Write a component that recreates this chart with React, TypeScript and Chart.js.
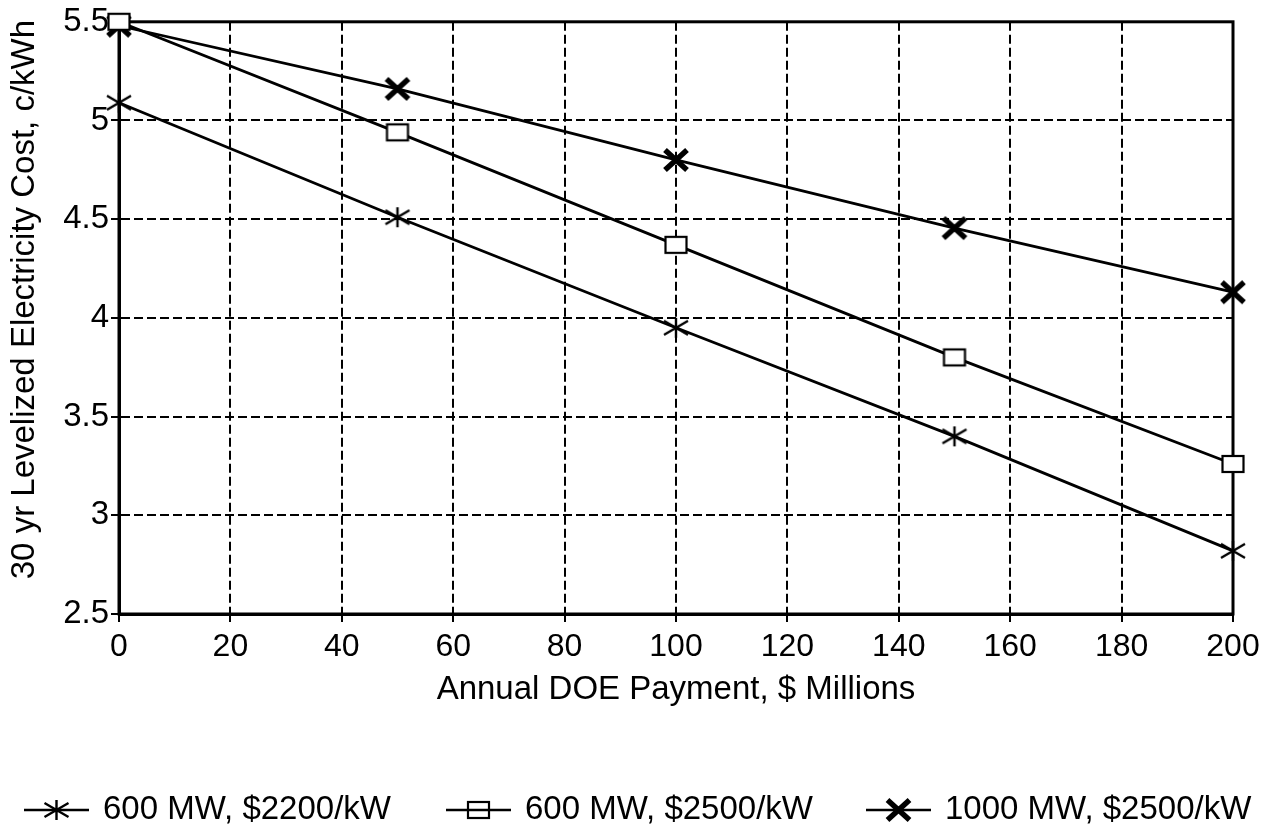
import React, { useEffect, useRef } from "react";
import { Chart, registerables } from "chart.js";

Chart.register(...registerables);

// Annual DOE payment ($ millions) and levelized cost (c/kWh) for each plant case
const payments = [0, 50, 100, 150, 200];
const cost600At2200 = [5.09, 4.51, 3.95, 3.4, 2.82];
const cost600At2500 = [5.5, 4.94, 4.37, 3.8, 3.26];
const cost1000At2500 = [5.48, 5.16, 4.8, 4.455, 4.13];
const seriesLabels = ["600 MW, $2200/kW", "600 MW, $2500/kW", "1000 MW, $2500/kW"];
const xTitle = "Annual DOE Payment, $ Millions";
const yTitle = "30 yr Levelized Electricity Cost, c/kWh";

const FONT = '"Liberation Sans", Arial, Helvetica, sans-serif';
const W = 1272;
const H = 834;

// Legend layout: left edge of each entry and the row's vertical centre
const LEGEND_X = [23, 445, 865];
const LEGEND_Y = 810;
const LEGEND_SYMBOL_W = 67;

type MarkerKind = "asterisk" | "square" | "boldx";

function drawMarker(ctx: CanvasRenderingContext2D, kind: MarkerKind, cx: number, cy: number, fillSquare: boolean) {
  ctx.strokeStyle = "#000";
  ctx.lineCap = "butt";
  if (kind === "asterisk") {
    ctx.lineWidth = 2.4;
    ctx.beginPath();
    ctx.moveTo(cx, cy - 10);
    ctx.lineTo(cx, cy + 10);
    ctx.moveTo(cx - 12, cy - 7);
    ctx.lineTo(cx + 12, cy + 7);
    ctx.moveTo(cx - 12, cy + 7);
    ctx.lineTo(cx + 12, cy - 7);
    ctx.stroke();
  } else if (kind === "square") {
    ctx.lineWidth = 2.2;
    if (fillSquare) {
      ctx.fillStyle = "#fff";
      ctx.fillRect(cx - 10.5, cy - 8, 21, 16);
    }
    ctx.strokeRect(cx - 10.5, cy - 8, 21, 16);
  } else {
    ctx.lineWidth = 5.5;
    ctx.beginPath();
    ctx.moveTo(cx - 11, cy - 10);
    ctx.lineTo(cx + 11, cy + 10);
    ctx.moveTo(cx - 11, cy + 10);
    ctx.lineTo(cx + 11, cy - 10);
    ctx.stroke();
  }
}

function makeMarker(kind: MarkerKind): HTMLCanvasElement {
  const c = document.createElement("canvas");
  c.width = 32;
  c.height = 32;
  const ctx = c.getContext("2d")!;
  drawMarker(ctx, kind, 16, 16, true);
  return c;
}

function makeLegendSymbol(kind: MarkerKind): HTMLCanvasElement {
  const c = document.createElement("canvas");
  c.width = LEGEND_SYMBOL_W;
  c.height = 28;
  const ctx = c.getContext("2d")!;
  ctx.strokeStyle = "#000";
  ctx.lineWidth = 2.5;
  ctx.beginPath();
  ctx.moveTo(1, 14);
  ctx.lineTo(LEGEND_SYMBOL_W - 1, 14);
  ctx.stroke();
  drawMarker(ctx, kind, LEGEND_SYMBOL_W / 2, 14, false);
  return c;
}

// Solid frame around the plotting area (top and right edges included)
const framePlugin = {
  id: "plotFrame",
  beforeDatasetsDraw(chart: any) {
    const { ctx, chartArea } = chart;
    ctx.save();
    ctx.strokeStyle = "#000";
    ctx.lineWidth = 3;
    ctx.setLineDash([]);
    ctx.strokeRect(chartArea.left, chartArea.top, chartArea.right - chartArea.left, chartArea.bottom - chartArea.top);
    ctx.restore();
  },
};

const whiteBackground = {
  id: "whiteBackground",
  beforeDraw(chart: any) {
    const { ctx, width, height } = chart;
    ctx.save();
    ctx.fillStyle = "#fff";
    ctx.fillRect(0, 0, width, height);
    ctx.restore();
  },
};

// One-row legend in fixed columns below the axis title
function makeLegendPlugin(symbols: HTMLCanvasElement[]) {
  return {
    id: "columnLegend",
    afterDraw(chart: any) {
      const { ctx } = chart;
      ctx.save();
      ctx.font = `33px ${FONT}`;
      ctx.fillStyle = "#000";
      ctx.textAlign = "left";
      ctx.textBaseline = "middle";
      chart.data.datasets.forEach((ds: any, i: number) => {
        const x0 = LEGEND_X[i];
        const sym = symbols[i];
        ctx.drawImage(sym, x0, LEGEND_Y - sym.height / 2);
        ctx.fillText(ds.label, x0 + LEGEND_SYMBOL_W + 13, LEGEND_Y);
      });
      ctx.restore();
    },
  };
}

export default function App() {
  const canvasRef = useRef<HTMLCanvasElement>(null);

  useEffect(() => {
    const canvas = canvasRef.current;
    if (!canvas) return;

    const kinds: MarkerKind[] = ["asterisk", "square", "boldx"];
    const pointImages = kinds.map(makeMarker);
    const legendImages = kinds.map(makeLegendSymbol);
    const seriesValues = [cost600At2200, cost600At2500, cost1000At2500];

    const datasets = seriesValues.map((values, i) => ({
      label: seriesLabels[i],
      data: payments.map((x, j) => ({ x, y: values[j] })),
      borderColor: "#000",
      backgroundColor: "#000",
      borderWidth: 2.8,
      pointStyle: pointImages[i] as any,
      pointRadius: 10,
      pointHoverRadius: 10,
      tension: 0,
      clip: false as any,
    }));

    const gridOpts = {
      color: "#000",
      lineWidth: 2,
      drawTicks: true,
      tickLength: 8,
      tickColor: "#000",
      tickWidth: 2,
      tickBorderDash: [],
    };
    const borderOpts = { display: true, color: "#000", width: 3, dash: [9, 4] };

    const chart = new Chart(canvas, {
      type: "line",
      data: { datasets },
      options: {
        animation: false,
        responsive: false,
        maintainAspectRatio: false,
        events: [],
        layout: { padding: { left: 0, right: 39, top: 20, bottom: 0 } },
        plugins: {
          tooltip: { enabled: false },
          legend: { display: false },
        },
        scales: {
          x: {
            type: "linear",
            min: 0,
            max: 200,
            ticks: { stepSize: 20, color: "#000", padding: 6, font: { family: FONT, size: 32 } },
            grid: gridOpts,
            border: borderOpts,
            title: {
              display: true,
              text: xTitle,
              color: "#000",
              font: { family: FONT, size: 33 },
              padding: { top: 0, bottom: 124 },
            },
            afterFit: (scale: any) => {
              scale.height = 220;
            },
          },
          y: {
            type: "linear",
            min: 2.5,
            max: 5.5,
            ticks: {
              stepSize: 0.5,
              color: "#000",
              padding: 2,
              font: { family: FONT, size: 33 },
              callback: (value: any) => String(Number(value)),
            },
            grid: gridOpts,
            border: borderOpts,
            title: {
              display: true,
              text: "    " + yTitle,
              color: "#000",
              font: { family: FONT, size: 33 },
              padding: { top: 5, bottom: 0 },
            },
            afterFit: (scale: any) => {
              scale.width = 119;
            },
          },
        },
      },
      plugins: [whiteBackground, framePlugin, makeLegendPlugin(legendImages)],
    });

    return () => chart.destroy();
  }, []);

  return (
    <div style={{ position: "absolute", left: 0, top: 0, width: W, height: H, background: "#fff" }}>
      <canvas ref={canvasRef} width={W} height={H} style={{ display: "block" }} />
    </div>
  );
}
